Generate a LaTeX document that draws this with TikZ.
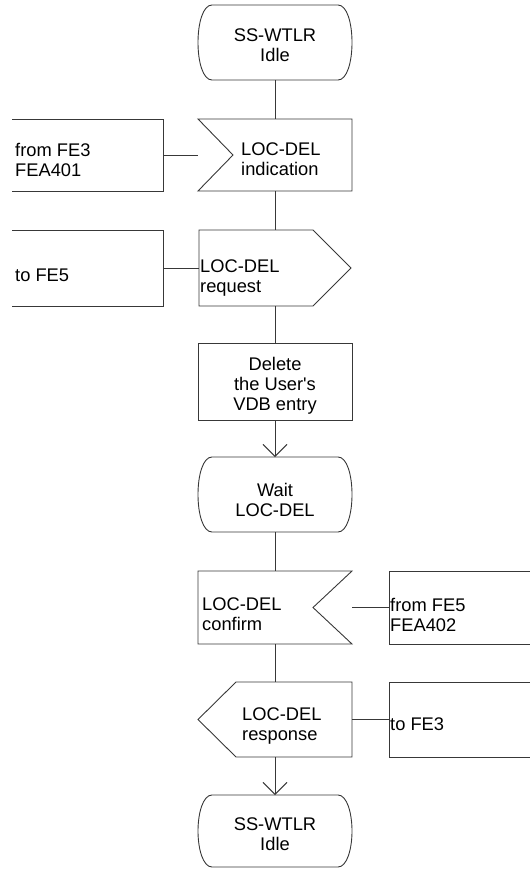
\documentclass[tikz,border=0pt]{standalone}
\usepackage{fontspec}
\setmainfont{Liberation Sans}[Ligatures=TeXOff]
\usetikzlibrary{arrows.meta,calc}
\newcommand\sdlstatepath[1]{%
  \draw[ln] ($(#1.north west)+(14,0)$) -- ($(#1.north east)+(-14,0)$)
    .. controls ($(#1.north east)+(-5,0)$) and ($(#1.north east)+(0,18)$) .. (#1.east)
    .. controls ($(#1.south east)+(0,-18)$) and ($(#1.south east)+(-5,0)$) .. ($(#1.south east)+(-14,0)$)
    -- ($(#1.south west)+(14,0)$)
    .. controls ($(#1.south west)+(5,0)$) and ($(#1.south west)+(0,-18)$) .. (#1.west)
    .. controls ($(#1.north west)+(0,18)$) and ($(#1.north west)+(5,0)$) .. cycle;}
\begin{document}
\begin{tikzpicture}[x=1pt,y=-1pt,
  ln/.style={draw=black!78, line width=0.9pt},
  frame/.style={draw=none, inner sep=0pt, outer sep=0pt, minimum width=#1},
  frame/.default=154pt,
  txt/.style={inner sep=0pt, font=\fontsize{18.3}{20}\selectfont},
  arr/.style={ln, -{Straight Barb[length=12pt,width=24pt]}}]
\useasboundingbox (0,0) rectangle (530,873);
% frames of the shapes
\node[frame, minimum height=75pt] (s1) at (275,42.5) {};
\node[frame, minimum height=72pt] (in1) at (275,155) {};
\node[frame=151pt, minimum height=72pt] (fe3in) at (87.5,155) {};
\node[frame=152pt, minimum height=76pt] (out1) at (275,268) {};
\node[frame=151pt, minimum height=76pt] (fe5out) at (87.5,268) {};
\node[frame, minimum height=77pt] (task) at (275,381.5) {};
\node[frame, minimum height=75pt] (wait) at (275,494.5) {};
\node[frame, minimum height=73pt] (in2) at (275,607.5) {};
\node[frame=141pt, minimum height=73pt] (fe5in) at (459.5,607.5) {};
\node[frame, minimum height=75pt] (out2) at (275,719.5) {};
\node[frame=141pt, minimum height=75pt] (fe3out) at (459.5,719.5) {};
\node[frame, minimum height=72pt] (s3) at (275,831) {};
% outlines
\sdlstatepath{s1}
\sdlstatepath{wait}
\sdlstatepath{s3}
\draw[ln] (in1.north west) -- (in1.north east) -- (in1.south east) -- (in1.south west) -- ($(in1.west)+(35,0)$) -- cycle;
\draw[ln] (out1.north west) -- ($(out1.north east)+(-38,0)$) -- (out1.east) -- ($(out1.south east)+(-38,0)$) -- (out1.south west) -- cycle;
\draw[ln] (task.north west) rectangle (task.south east);
\draw[ln] (in2.north west) -- (in2.north east) -- ($(in2.east)+(-39,0)$) -- (in2.south east) -- (in2.south west) -- cycle;
\draw[ln] ($(out2.north west)+(38,0)$) -- (out2.north east) -- (out2.south east) -- ($(out2.south west)+(38,0)$) -- (out2.west) -- cycle;
\draw[ln] (fe3in.north west) -- (fe3in.north east) -- (fe3in.south east) -- (fe3in.south west);
\draw[ln] (fe5out.north west) -- (fe5out.north east) -- (fe5out.south east) -- (fe5out.south west);
\draw[ln] (fe5in.north east) -- (fe5in.north west) -- (fe5in.south west) -- (fe5in.south east);
\draw[ln] (fe3out.north east) -- (fe3out.north west) -- (fe3out.south west) -- (fe3out.south east);
% connectors
\draw[ln] (s1.south) -- (in1.north);
\draw[ln] (in1.south) -- (out1.north);
\draw[ln] (out1.south) -- (task.north);
\draw[arr] (task.south) -- (wait.north);
\draw[ln] (wait.south) -- (in2.north);
\draw[ln] (in2.south) -- (out2.north);
\draw[arr] (out2.south) -- (s3.north);
\draw[ln] (fe3in.east) -- (in1.west);
\draw[ln] (fe5out.east) -- (out1.west);
\draw[ln] (in2.east) -- (fe5in.west);
\draw[ln] (out2.east) -- (fe3out.west);
% texts
\node[txt, anchor=north, align=center] (ts1) at (275,29) {SS-WTLR\\Idle};
\node[txt, anchor=north west, align=left] (tin1) at (241,143) {LOC-DEL\\indication};
\node[txt, anchor=north west, align=left] (tfe3in) at (15,143) {from FE3\\FEA401};
\node[txt, anchor=north west, align=left] (tout1) at (200,260) {LOC-DEL\\request};
\node[txt, anchor=north west, align=left] (tfe5out) at (15,269) {to FE5};
\node[txt, anchor=north, align=center] (ttask) at (275,357) {Delete\\the User's\\VDB entry};
\node[txt, anchor=north, align=center] (twait) at (275,483) {Wait\\LOC-DEL};
\node[txt, anchor=north west, align=left] (tin2) at (202,598) {LOC-DEL\\confirm};
\node[txt, anchor=north west, align=left] (tfe5in) at (390,598) {from FE5\\FEA402};
\node[txt, anchor=north west, align=left] (tout2) at (242,708) {LOC-DEL\\response};
\node[txt, anchor=north west, align=left] (tfe3out) at (390,718) {to FE3};
\node[txt, anchor=north, align=center] (ts3) at (275,818) {SS-WTLR\\Idle};
\end{tikzpicture}
\end{document}
